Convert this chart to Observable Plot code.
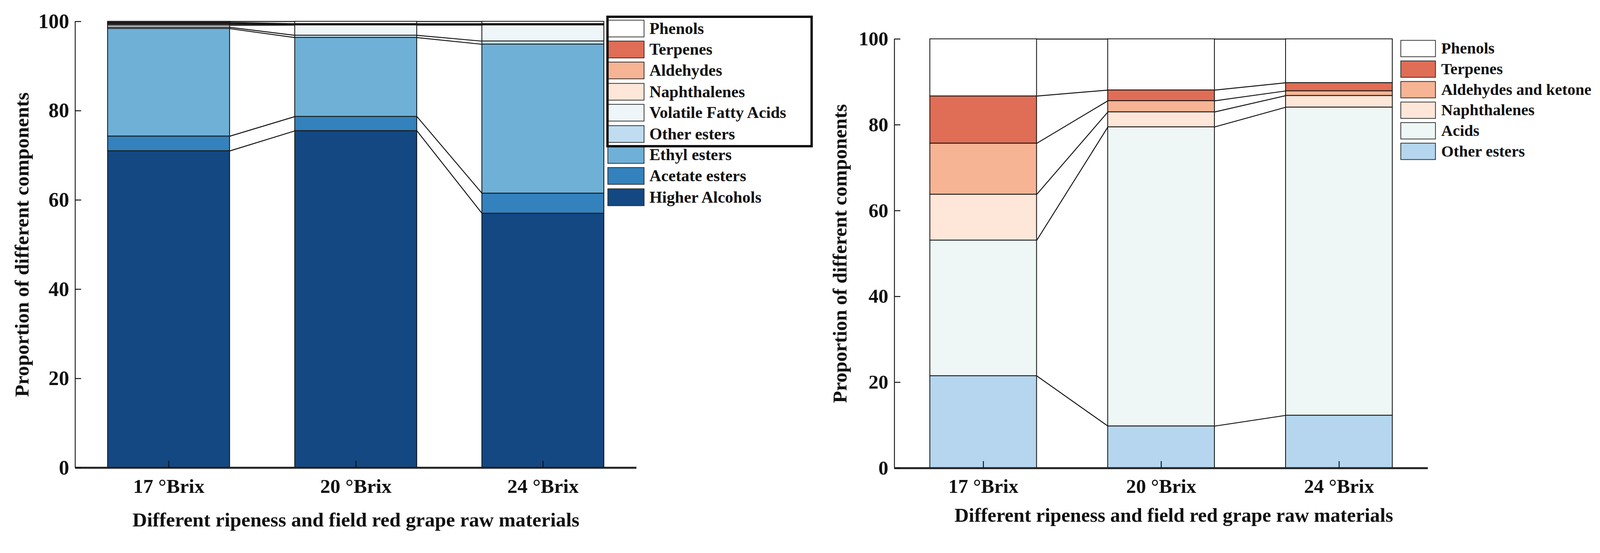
<!DOCTYPE html>
<html><head><meta charset="utf-8">
<script src="https://cdn.jsdelivr.net/npm/d3@7"></script>
<script src="https://cdn.jsdelivr.net/npm/@observablehq/plot@0.6"></script>
<style>
html,body{margin:0;padding:0;background:#fff;overflow:hidden;}
#wrap{position:absolute;left:0;top:0;width:4201px;height:1416px;overflow:hidden;transform-origin:0 0;font-family:"Liberation Serif","Times New Roman",serif;font-weight:bold;color:#111;}
.plot{position:absolute;top:0;}
.sw{position:absolute;box-sizing:border-box;border:2.5px solid #333;}
.lt{position:absolute;white-space:nowrap;}
.box{position:absolute;box-sizing:border-box;border:6px solid #000;}
</style></head><body><div id="wrap"></div>
<script>
// ---------- shared ----------
const categories = ["17 °Brix", "20 °Brix", "24 °Brix"];
const yTicks = [0, 20, 40, 60, 80, 100];
const xTitle = "Different ripeness and field red grape raw materials";
const yTitle = "Proportion of different components";

// ---------- left chart (bottom -> top) ----------
const leftSeries = ["Higher Alcohols", "Acetate esters", "Ethyl esters", "Other esters", "Volatile Fatty Acids", "Naphthalenes", "Aldehydes", "Terpenes", "Phenols"];
const leftColors = ["#134882", "#3381bd", "#6fb0d7", "#c0dcf0", "#eff6fa", "#fee6d8", "#f6b494", "#e06d55", "#ffffff"];
const leftHigherAlcohols = [71.0, 75.5, 57.0];
const leftAcetateEsters = [3.3, 3.2, 4.5];
const leftEthylEsters = [24.1, 17.7, 33.4];
const leftOtherEsters = [0.3, 0.5, 0.7];
const leftVolatileFattyAcids = [0.45, 2.3, 3.6];
const leftNaphthalenes = [0.25, 0.1, 0.1];
const leftAldehydes = [0.2, 0.1, 0.1];
const leftTerpenes = [0.2, 0.1, 0.1];
const leftPhenols = [0.2, 0.5, 0.5];
const leftLegendOrder = ["Phenols", "Terpenes", "Aldehydes", "Naphthalenes", "Volatile Fatty Acids", "Other esters", "Ethyl esters", "Acetate esters", "Higher Alcohols"];

// ---------- right chart (bottom -> top) ----------
const rightSeries = ["Other esters", "Acids", "Naphthalenes", "Aldehydes and ketone", "Terpenes", "Phenols"];
const rightColors = ["#b5d6ee", "#eef7f5", "#fee6d8", "#f6b494", "#e06d55", "#ffffff"];
const rightOtherEsters = [21.5, 9.8, 12.3];
const rightAcids = [31.6, 69.7, 71.8];
const rightNaphthalenes = [10.7, 3.5, 2.7];
const rightAldehydes = [11.9, 2.6, 1.1];
const rightTerpenes = [11.0, 2.5, 1.9];
const rightPhenols = [13.3, 11.9, 10.2];
const rightLegendOrder = ["Phenols", "Terpenes", "Aldehydes and ketone", "Naphthalenes", "Acids", "Other esters"];

const leftValues = [leftHigherAlcohols, leftAcetateEsters, leftEthylEsters, leftOtherEsters, leftVolatileFattyAcids, leftNaphthalenes, leftAldehydes, leftTerpenes, leftPhenols];
const rightValues = [rightOtherEsters, rightAcids, rightNaphthalenes, rightAldehydes, rightTerpenes, rightPhenols];

function buildChart(cfg) {
  const {series, values, colors, hw} = cfg;
  const rows = [];
  const tops = [];
  categories.forEach((c, i) => {
    let acc = 0;
    tops[i] = [];
    series.forEach((s, k) => {
      const v = values[k][i];
      rows.push({i, s, y1: acc, y2: Math.min(100, acc + v)});
      acc += v;
      tops[i][k] = Math.min(100, acc);
    });
  });
  const links = [];
  series.forEach((s, k) => {
    for (let i = 0; i < categories.length - 1; i++) {
      links.push({x1: i + hw, y1: tops[i][k], x2: i + 1 - hw, y2: tops[i + 1][k]});
    }
  });
  return Plot.plot({
    width: cfg.width, height: 1416,
    marginLeft: cfg.ml, marginRight: cfg.mr, marginTop: cfg.mt, marginBottom: cfg.mb,
    style: {fontFamily: '"Liberation Serif","Times New Roman",serif', fontWeight: "bold", fontSize: cfg.tickFont + "px", color: "#111", background: "transparent", overflow: "visible"},
    x: {type: "linear", domain: [-0.5, 2.5]},
    y: {domain: [0, 100]},
    color: {domain: series, range: colors},
    marks: [
      Plot.rect(rows, {x1: d => d.i - hw, x2: d => d.i + hw, y1: "y1", y2: "y2", fill: "s", stroke: "#151515", strokeWidth: 2.2}),
      Plot.link(links, {x1: "x1", y1: "y1", x2: "x2", y2: "y2", stroke: "#151515", strokeWidth: 2.5}),
      Plot.ruleX([-0.5], {y1: 0, y2: 100, stroke: "#222", strokeWidth: 2.5}),
      Plot.ruleY([0], {x1: -0.5, x2: 2.5, stroke: "#222", strokeWidth: 5}),
      Plot.axisY({ticks: yTicks, tickSize: -16, tickPadding: 32, strokeWidth: 2.5, label: null}),
      Plot.axisX({ticks: [0, 1, 2], tickFormat: i => categories[i], tickSize: -18, tickPadding: 46, strokeWidth: 2.5, label: null, fontSize: cfg.xFont}),
      Plot.text([xTitle], {text: d => d, frameAnchor: "bottom", dy: cfg.xtDy, dx: cfg.xtDx, textAnchor: "middle", lineAnchor: "middle", fontSize: cfg.titleFont}),
      Plot.text([yTitle], {text: d => d, frameAnchor: "left", dx: cfg.ytDx, rotate: -90, textAnchor: "middle", lineAnchor: "middle", fontSize: cfg.titleFont})
    ]
  });
}

const wrap = document.getElementById("wrap");

const left = buildChart({series: leftSeries, values: leftValues, colors: leftColors, hw: 0.326,
  width: 1700, ml: 197, mr: 29, mt: 56, mb: 188, tickFont: 54, xFont: 53, titleFont: 53, xtDy: 137, xtDx: 0, ytDx: -140});
left.classList.add("plot"); left.style.left = "0px";
wrap.appendChild(left);

const right = buildChart({series: rightSeries, values: rightValues, colors: rightColors, hw: 0.3,
  width: 2101, ml: 248, mr: 452, mt: 102, mb: 187, tickFont: 52, xFont: 52, titleFont: 52, xtDy: 124, xtDx: 33, ytDx: -143});
right.classList.add("plot"); right.style.left = "2100px";
wrap.appendChild(right);

// ---------- legends ----------
function legend(order, series, colors, opt) {
  order.forEach((name, k) => {
    const top = opt.top + opt.pitch * k;
    const sw = document.createElement("div");
    sw.className = "sw";
    Object.assign(sw.style, {left: opt.sx + "px", top: top + "px", width: opt.sw + "px", height: opt.sh + "px", background: colors[series.indexOf(name)]});
    wrap.appendChild(sw);
    const t = document.createElement("div");
    t.className = "lt";
    t.textContent = name;
    Object.assign(t.style, {left: opt.tx + "px", top: top + "px", height: opt.sh + "px", lineHeight: opt.sh + "px", fontSize: opt.font + "px"});
    wrap.appendChild(t);
  });
}
legend(leftLegendOrder, leftSeries, leftColors, {top: 51.5, pitch: 55.4, sx: 1595, sw: 97, sh: 46, tx: 1705, font: 43});
const box = document.createElement("div");
box.className = "box";
Object.assign(box.style, {left: "1592px", top: "41px", width: "542px", height: "346px"});
wrap.appendChild(box);
legend(rightLegendOrder, rightSeries, rightColors, {top: 105, pitch: 54, sx: 3677, sw: 93, sh: 45, tx: 3784, font: 42});

// fit the 4201x1416 design into the actual viewport
function fit() {
  const s = Math.min(window.innerWidth / 4201, window.innerHeight / 1416);
  wrap.style.transform = "scale(" + s + ")";
}
fit();
window.addEventListener("resize", fit);
</script>
</body></html>
